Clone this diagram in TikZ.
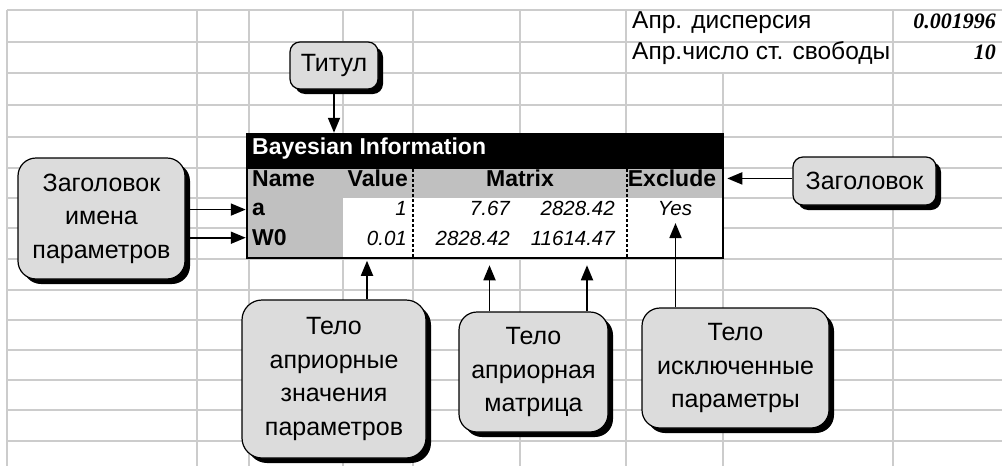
\documentclass[tikz,border=0pt]{standalone}
\usepackage{fontspec}
\setmainfont{Liberation Sans}
\newfontfamily\numfont{Liberation Serif}
\usetikzlibrary{arrows.meta,shadows}
\definecolor{cellgray}{HTML}{C0C0C0}
\definecolor{notegray}{HTML}{DCDCDC}
\definecolor{gridgray}{HTML}{CCCCCC}
\tikzset{
  note/.style={draw,line width=1.2pt,fill=notegray,rounded corners=10pt,
    align=center,inner sep=0pt,font=\fontsize{25}{33.5}\selectfont,
    drop shadow={shadow xshift=5pt,shadow yshift=-5pt,fill=black,opacity=1}},
  cell/.style={inner sep=0pt,font=\fontsize{24.5}{26}\selectfont},
  head/.style={inner sep=0pt,font=\fontsize{23}{24}\selectfont\bfseries},
  val/.style={inner sep=0pt,anchor=mid east,font=\fontsize{20.5}{24}\selectfont\itshape},
  arr/.style={-{Triangle[length=15pt,width=12pt]},line width=1.8pt},
  gridline/.style={gridgray,line width=1.5pt},
}
\begin{document}
\begin{tikzpicture}[x=1pt,y=-1pt]
  \fill[white] (0,0) rectangle (1002,466);
  \useasboundingbox (0,0) rectangle (1002,466);
  % sheet grid
  \foreach \y in {10,42,73,105,137,168,198,228,259,290,320,350,380,410,441}
    \draw[gridline] (7,\y) -- (1002,\y);
  \foreach \x in {7,197,249,343,413,520,626,893}
    \draw[gridline] (\x,10) -- (\x,466);
  \draw[gridline] (723,73) -- (723,466);
  % prior cells
  \draw
    (632,26) node[cell,anchor=mid west] (disp){Апр. дисперсия}
    (632,57) node[cell,anchor=mid west] (dof){Апр.число ст. свободы}
    (996,26) node[cell,anchor=mid east,font=\fontsize{22}{24}\numfont\bfseries\itshape] (dispv){0.001996}
    (996,57) node[cell,anchor=mid east,font=\fontsize{22}{24}\numfont\bfseries\itshape] (dofv){10};
  % table
  \fill[black] (247,134) rectangle (723,169);
  \fill[cellgray] (247,169) rectangle (723,198);
  \fill[cellgray] (247,198) rectangle (343,258);
  \fill[white] (343,198) rectangle (723,258);
  \begin{scope}[line width=1.2pt,dash pattern=on 3pt off 2pt]
    \draw (413,169) -- (413,258);
    \draw (627,169) -- (627,258);
  \end{scope}
  \node[draw,line width=2.5pt,minimum width=476pt,minimum height=124pt,inner sep=0pt] (tbl) at (485,196) {};
  \draw
    (252,152) node[head,anchor=mid west,text=white] (title){Bayesian Information}
    (252,184) node[head,anchor=mid west] (name){Name}
    (408,184) node[head,anchor=mid east] (value){Value}
    (520,184) node[head,anchor=mid] (matrix){Matrix}
    (672,184) node[head,anchor=mid] (excl){Exclude}
    (252,213) node[head,anchor=mid west] (ta){a}
    (252,243) node[head,anchor=mid west] (tw){W0}
    (407,213) node[val] (va){1}
    (407,243) node[val] (vw){0.01}
    (510,213) node[val] (m11){7.67}
    (615,213) node[val] (m12){2828.42}
    (510,243) node[val] (m21){2828.42}
    (615,243) node[val] (m22){11614.47}
    (675,213) node[val,anchor=mid] (yes){Yes};
  % callouts
  \node[note,minimum width=88pt,minimum height=47pt] (titul) at (334,65.5) {Титул};
  \node[note,rounded corners=18pt,minimum width=167pt,minimum height=121pt] (hdrL) at (101.5,218.5) {Заголовок\\имена\\параметров};
  \node[note,minimum width=143pt,minimum height=48pt] (hdrR) at (864.5,181) {Заголовок};
  \node[note,rounded corners=20pt,minimum width=184pt,minimum height=158pt] (bodyV) at (334,379) {Тело\\априорные\\значения\\параметров};
  \node[note,rounded corners=18pt,minimum width=149pt,minimum height=120pt] (bodyM) at (533.5,372) {Тело\\априорная\\матрица};
  \node[note,rounded corners=18pt,minimum width=187pt,minimum height=120pt] (bodyE) at (735.5,368) {Тело\\исключенные\\параметры};
  \begin{scope}[arr]
    \draw (titul.south) to (titul.south |- tbl.north);
    \draw (hdrL.east |- ta) to (tbl.west |- ta);
    \draw (hdrL.east |- tw) to (tbl.west |- tw);
    \draw[shorten >=3pt] (hdrR.west |- excl) to (tbl.east |- excl);
    \draw[shorten >=1.5pt] ([xshift=33pt]bodyV.north) to ([xshift=33pt]bodyV.north |- tbl.south);
    \draw[shorten >=6pt] ([xshift=-44pt]bodyM.north) to ([xshift=-44pt]bodyM.north |- tbl.south);
    \draw[shorten >=6pt] ([xshift=53.5pt]bodyM.north) to ([xshift=53.5pt]bodyM.north |- tbl.south);
    \draw[shorten >=7pt] ([xshift=-60pt]bodyE.north) to ([xshift=-60pt]bodyE.north |- yes.south);
  \end{scope}
\end{tikzpicture}
\end{document}
